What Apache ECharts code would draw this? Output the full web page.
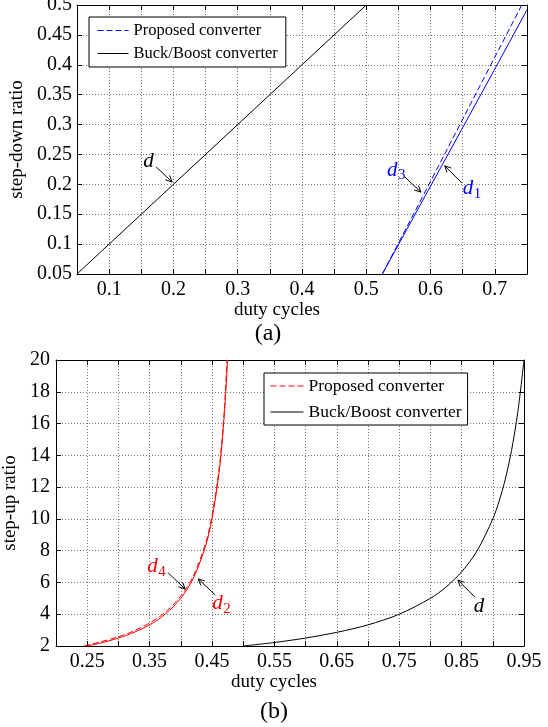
<!DOCTYPE html>
<html>
<head>
<meta charset="utf-8">
<script src="https://cdn.jsdelivr.net/npm/echarts@6/dist/echarts.min.js"></script>
<style>
  html, body { margin: 0; padding: 0; background: #fff; }
  #chart { width: 548px; height: 727px; }
</style>
</head>
<body>
<div id="chart"></div>
<script>
// (a) step-down ratio vs duty cycle
const downBuckX = [0.05, 0.2, 0.35, 0.5];
const downBuckY = [0.05, 0.2, 0.35, 0.5];
const downD3X = [0.525, 0.6, 0.7, 0.742];
const downD3Y = [0.05, 0.205, 0.413, 0.5];
const downD1X = [0.525, 0.6, 0.7, 0.75];
const downD1Y = [0.05, 0.197, 0.393, 0.492];
const downXLabels = ['0.1', '0.2', '0.3', '0.4', '0.5', '0.6', '0.7'];
const downYLabels = ['0.05', '0.1', '0.15', '0.2', '0.25', '0.3', '0.35', '0.4', '0.45', '0.5'];

// (b) step-up ratio vs duty cycle
const upBuckX = [0.5, 0.55, 0.6, 0.65, 0.7, 0.75, 0.8, 0.825, 0.85, 0.875, 0.9, 0.91, 0.92, 0.93, 0.94, 0.95];
const upBuckY = [2, 2.22, 2.5, 2.86, 3.33, 4, 5, 5.71, 6.67, 8, 10, 11.1, 12.5, 14.3, 16.7, 20];
const upD4X = [0.245, 0.27, 0.3, 0.325, 0.35, 0.375, 0.4, 0.42, 0.44, 0.45, 0.46, 0.465, 0.47, 0.474];
const upD4Y = [2, 2.25, 2.58, 2.95, 3.45, 4.12, 5.15, 6.4, 8.5, 10.2, 12.7, 14.5, 17, 20];
const upD2X = [0.25, 0.27, 0.3, 0.325, 0.35, 0.375, 0.4, 0.42, 0.44, 0.45, 0.46, 0.465, 0.47, 0.475];
const upD2Y = [2, 2.17, 2.5, 2.86, 3.33, 4, 5, 6.25, 8.33, 10, 12.5, 14.3, 16.7, 20];
const upXLabels = ['0.25', '0.35', '0.45', '0.55', '0.65', '0.75', '0.85', '0.95'];
const upYLabels = ['2', '4', '6', '8', '10', '12', '14', '16', '18', '20'];

const FONT = 'Liberation Serif';
const pts = (xs, ys) => xs.map((x, i) => [x, ys[i]]);
const fmt = (list) => (v) => {
  const s = String(+(+v).toFixed(2));
  return list.includes(s) ? s : '';
};

const chart = echarts.init(document.getElementById('chart'));

function axisBase(extra) {
  return Object.assign({
    type: 'value',
    axisLine: { show: true, onZero: false, lineStyle: { color: '#000', width: 1 } },
    axisTick: { show: true, inside: true, length: 5, lineStyle: { color: '#000' } },
    axisLabel: { color: '#000', fontFamily: FONT, fontSize: 20 },
    splitLine: { show: false },
    nameTextStyle: { color: '#000', fontFamily: FONT, fontSize: 19 }
  }, extra);
}
const gridLine = { show: true, lineStyle: { color: '#777', type: [1, 2], width: 1 } };
const noLabel = { show: false };

const option = {
  animation: false,
  backgroundColor: '#fff',
  grid: [
    { left: 77, top: 5, width: 450, height: 269, containLabel: false, outerBoundsMode: 'none' },
    { left: 56, top: 360, width: 468, height: 286, containLabel: false, outerBoundsMode: 'none' }
  ],
  xAxis: [
    axisBase({
      gridIndex: 0, position: 'bottom', min: 0.05, max: 0.75, interval: 0.05,
      splitLine: gridLine,
      axisLabel: { color: '#000', fontFamily: FONT, fontSize: 20, margin: 6, formatter: fmt(downXLabels) },
      name: 'duty cycles', nameLocation: 'middle', nameGap: 20,
      nameTextStyle: { color: '#000', fontFamily: FONT, fontSize: 19, padding: [0, 50, 0, 0] }
    }),
    axisBase({ gridIndex: 0, position: 'top', min: 0.05, max: 0.75, interval: 0.05, axisLabel: noLabel }),
    axisBase({
      gridIndex: 1, position: 'bottom', min: 0.2, max: 0.95, interval: 0.05,
      splitLine: gridLine,
      axisLabel: { color: '#000', fontFamily: FONT, fontSize: 20, margin: 6, formatter: fmt(upXLabels) },
      name: 'duty cycles', nameLocation: 'middle', nameGap: 24,
      nameTextStyle: { color: '#000', fontFamily: FONT, fontSize: 19, padding: [0, 32, 0, 0] }
    }),
    axisBase({ gridIndex: 1, position: 'top', min: 0.2, max: 0.95, interval: 0.05, axisLabel: noLabel })
  ],
  yAxis: [
    axisBase({
      gridIndex: 0, position: 'left', min: 0.05, max: 0.5, interval: 0.05,
      splitLine: gridLine,
      axisLabel: { color: '#000', fontFamily: FONT, fontSize: 20, margin: 5, formatter: fmt(downYLabels) },
      name: 'step-down ratio', nameLocation: 'middle', nameGap: 40, nameRotate: 90
    }),
    axisBase({ gridIndex: 0, position: 'right', min: 0.05, max: 0.5, interval: 0.05, axisLabel: noLabel }),
    axisBase({
      gridIndex: 1, position: 'left', min: 2, max: 20, interval: 2,
      splitLine: gridLine,
      axisLabel: { color: '#000', fontFamily: FONT, fontSize: 20, margin: 6, formatter: fmt(upYLabels) },
      name: 'step-up ratio', nameLocation: 'middle', nameGap: 27, nameRotate: 90
    }),
    axisBase({ gridIndex: 1, position: 'right', min: 2, max: 20, interval: 2, axisLabel: noLabel })
  ],
  legend: [
    {
      data: ['Proposed converter#a', 'Buck/Boost converter#a'],
      formatter: (n) => n.split('#')[0],
      orient: 'vertical', left: 89, top: 17,
      itemWidth: 31, itemHeight: 12, itemGap: 6,
      padding: [5, 8, 5, 8],
      itemStyle: { opacity: 0 },
      lineStyle: { width: 1 },
      backgroundColor: '#fff', borderColor: '#000', borderWidth: 1,
      textStyle: { color: '#000', fontFamily: FONT, fontSize: 16.5 }
    },
    {
      data: ['Proposed converter#b', 'Buck/Boost converter#b'],
      formatter: (n) => n.split('#')[0],
      orient: 'vertical', left: 264, top: 373,
      itemWidth: 33, itemHeight: 12, itemGap: 8,
      padding: [4, 6, 4, 6],
      itemStyle: { opacity: 0 },
      lineStyle: { width: 1 },
      backgroundColor: '#fff', borderColor: '#000', borderWidth: 1,
      textStyle: { color: '#000', fontFamily: FONT, fontSize: 17.5 }
    }
  ],
  series: [
    {
      name: 'Proposed converter#a', type: 'line', xAxisIndex: 0, yAxisIndex: 0,
      data: pts(downD3X, downD3Y), symbol: 'none',
      lineStyle: { color: '#0000ff', width: 1, type: [6, 3] }, itemStyle: { color: '#0000ff' }
    },
    {
      name: 'd1', type: 'line', xAxisIndex: 0, yAxisIndex: 0,
      data: pts(downD1X, downD1Y), symbol: 'none',
      lineStyle: { color: '#0000ff', width: 1 }, itemStyle: { color: '#0000ff' }
    },
    {
      name: 'Buck/Boost converter#a', type: 'line', xAxisIndex: 0, yAxisIndex: 0,
      data: pts(downBuckX, downBuckY), symbol: 'none',
      lineStyle: { color: '#000', width: 1 }, itemStyle: { color: '#000' }
    },
    {
      name: 'Proposed converter#b', type: 'line', xAxisIndex: 2, yAxisIndex: 2,
      data: pts(upD4X, upD4Y), symbol: 'none', smooth: 0.3,
      lineStyle: { color: '#ff0000', width: 1, type: [6, 3] }, itemStyle: { color: '#ff0000' }
    },
    {
      name: 'd2', type: 'line', xAxisIndex: 2, yAxisIndex: 2,
      data: pts(upD2X, upD2Y), symbol: 'none', smooth: 0.3,
      lineStyle: { color: '#ff0000', width: 1 }, itemStyle: { color: '#ff0000' }
    },
    {
      name: 'Buck/Boost converter#b', type: 'line', xAxisIndex: 2, yAxisIndex: 2,
      data: pts(upBuckX, upBuckY), symbol: 'none', smooth: 0.3,
      lineStyle: { color: '#000', width: 1 }, itemStyle: { color: '#000' }
    }
  ]
};
chart.setOption(option);

// curve labels with arrows: tip in data coords, tail and label offsets in px
const notes = [
  { g: 0, tip: [0.198, 0.204], tail: [-16, -15], lab: [-29, -20], d: 'd', sub: '', color: '#000' },
  { g: 0, tip: [0.585, 0.187], tail: [-16, -15], lab: [-34, -22], d: 'd', sub: '3', color: '#0000ff' },
  { g: 0, tip: [0.622, 0.231], tail: [17, 17], lab: [18, 23], d: 'd', sub: '1', color: '#0000ff' },
  { g: 1, tip: [0.407, 5.59], tail: [-17, -16], lab: [-38, -22], d: 'd', sub: '4', color: '#ff0000' },
  { g: 1, tip: [0.428, 6.22], tail: [17, 16], lab: [14, 25], d: 'd', sub: '2', color: '#ff0000' },
  { g: 1, tip: [0.844, 6.15], tail: [17, 17], lab: [16, 26], d: 'd', sub: '', color: '#000' }
];

const graphics = [];
notes.forEach((n) => {
  const p = chart.convertToPixel({ gridIndex: n.g }, n.tip);
  const t = [p[0] + n.tail[0], p[1] + n.tail[1]];
  const ang = Math.atan2(p[1] - t[1], p[0] - t[0]);
  const hl = 7, ha = 0.45;
  const h1 = [p[0] - hl * Math.cos(ang - ha), p[1] - hl * Math.sin(ang - ha)];
  const h2 = [p[0] - hl * Math.cos(ang + ha), p[1] - hl * Math.sin(ang + ha)];
  const arrowStyle = { stroke: '#000', lineWidth: 1, fill: null };
  graphics.push({ type: 'polyline', shape: { points: [t, p] }, style: arrowStyle, z: 20 });
  graphics.push({ type: 'polyline', shape: { points: [h1, p, h2] }, style: arrowStyle, z: 20 });
  const lx = p[0] + n.lab[0], ly = p[1] + n.lab[1];
  graphics.push({
    type: 'text', x: lx, y: ly, z: 20,
    style: { text: n.d, fill: n.color, font: 'italic 21px "Liberation Serif"', textVerticalAlign: 'middle' }
  });
  if (n.sub) {
    graphics.push({
      type: 'text', x: lx + 11, y: ly + 5, z: 20,
      style: { text: n.sub, fill: n.color, font: '15px "Liberation Serif"', textVerticalAlign: 'middle' }
    });
  }
});

graphics.push({
  type: 'text', x: 268, y: 334,
  style: { text: '(a)', fill: '#000', font: '24px "Liberation Serif"', textAlign: 'center', textVerticalAlign: 'middle' }
});
graphics.push({
  type: 'text', x: 274, y: 712,
  style: { text: '(b)', fill: '#000', font: '24px "Liberation Serif"', textAlign: 'center', textVerticalAlign: 'middle' }
});

chart.setOption({ graphic: graphics });
</script>
</body>
</html>
